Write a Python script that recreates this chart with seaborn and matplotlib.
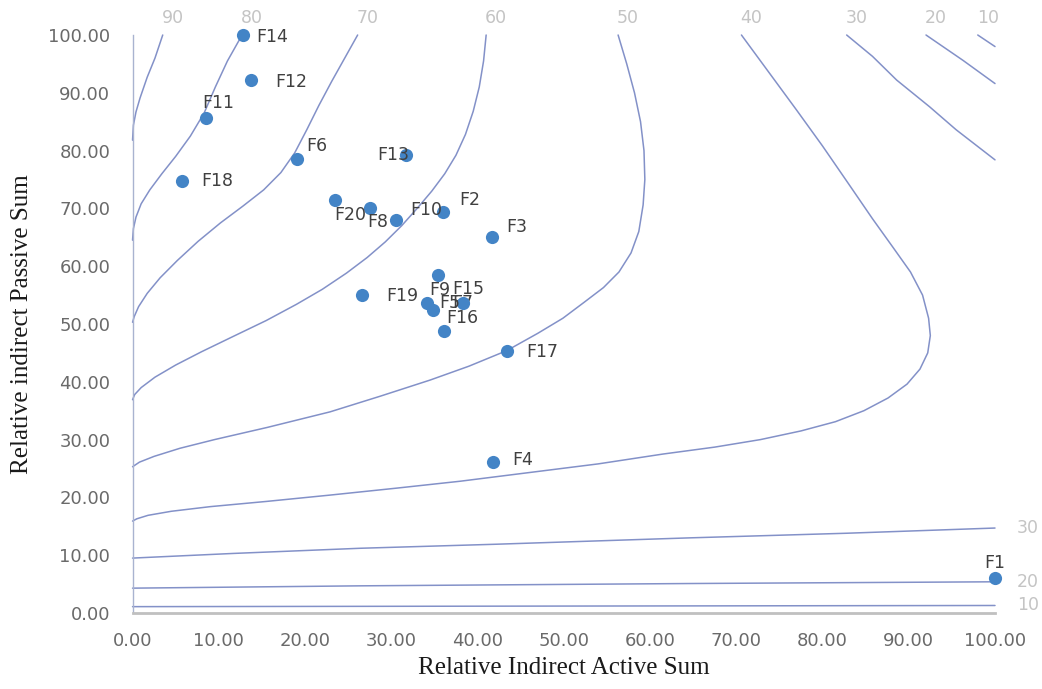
import matplotlib
matplotlib.use("Agg")
import matplotlib.pyplot as plt
import seaborn as sns
import pandas as pd

# Factors: relative indirect active sum (x) vs relative indirect passive sum (y)
factors = ["F1", "F2", "F3", "F4", "F5", "F6", "F7", "F8", "F9", "F10",
           "F11", "F12", "F13", "F14", "F15", "F16", "F17", "F18", "F19", "F20"]
active = [100.0, 36.0, 41.7, 41.8, 34.1, 19.1, 34.8, 27.5, 35.4, 30.6,
          8.5, 13.7, 31.7, 12.8, 38.3, 36.1, 43.4, 5.7, 26.6, 23.5]
passive = [6.0, 69.4, 65.0, 26.1, 53.6, 78.5, 52.4, 70.1, 58.5, 68.0,
           85.6, 92.2, 79.2, 100.0, 53.6, 48.8, 45.3, 74.7, 55.0, 71.5]

# Isolines (level -> traced points)
iso_90 = [(3.5, 100), (2.6, 96.0), (1.7, 92.7), (0.87, 89.1), (0.4, 86.7), (0.1, 84.4), (0.0, 81.8)]
iso_80 = [(12.7, 100), (11.0, 95.5), (9.6, 91.0), (8.3, 86.5), (6.7, 82.5), (5.0, 79.0),
          (3.4, 76.0), (2.0, 73.2), (1.0, 70.8), (0.4, 68.5), (0.1, 66.5), (0.0, 64.5)]
iso_70 = [(26.1, 100), (24.6, 96.0), (23.1, 92.0), (21.6, 87.8), (20.2, 83.6), (18.8, 79.6),
          (17.2, 76.2), (15.2, 73.2), (12.8, 70.4), (10.2, 67.5), (7.6, 64.3), (5.2, 61.0),
          (3.2, 58.0), (1.7, 55.3), (0.7, 53.0), (0.2, 51.3), (0.0, 50.3)]
iso_60 = [(41.0, 100), (40.7, 95.5), (40.2, 91.0), (39.5, 86.8), (38.6, 82.8), (37.5, 79.2),
          (36.2, 76.0), (34.7, 73.0), (33.0, 70.0), (31.2, 67.0), (29.3, 64.2), (27.2, 61.5),
          (24.8, 58.8), (22.0, 56.0), (19.0, 53.4), (15.5, 50.6), (11.6, 47.8), (8.0, 45.2),
          (5.0, 42.9), (2.6, 40.8), (1.0, 39.0), (0.25, 37.8), (0.0, 36.9)]
iso_50 = [(56.3, 100), (57.3, 95.0), (58.2, 90.0), (58.9, 85.0), (59.3, 80.0), (59.4, 75.0),
          (59.2, 70.6), (58.7, 66.0), (57.8, 62.3), (56.4, 59.0), (54.6, 56.3), (52.4, 53.8),
          (49.9, 51.0), (47.0, 48.4), (43.4, 45.4), (39.0, 42.7), (34.5, 40.3), (28.7, 37.5),
          (22.9, 34.8), (15.6, 32.1), (9.5, 30.0), (5.5, 28.5), (2.5, 27.1), (0.8, 26.1), (0.0, 25.3)]
iso_40 = [(70.6, 100), (73.8, 93.5), (77.0, 87.0), (80.0, 80.8), (83.0, 74.3), (85.8, 68.2),
          (88.2, 63.2), (90.2, 59.0), (91.6, 55.0), (92.3, 51.0), (92.5, 48.0), (92.2, 45.0),
          (91.3, 42.2), (89.8, 39.6), (87.6, 37.2), (84.8, 35.0), (81.5, 33.1), (77.5, 31.5),
          (72.8, 30.0), (67.5, 28.7), (61.5, 27.5), (54.0, 25.8), (46.0, 24.3), (38.0, 22.8),
          (30.6, 21.6), (22.9, 20.4), (15.5, 19.3), (9.0, 18.4), (4.5, 17.6), (1.8, 16.9),
          (0.5, 16.3), (0.0, 15.9)]
iso_30_upper = [(82.8, 100), (85.8, 96.3), (88.6, 92.2), (92.4, 87.6), (95.5, 83.6), (100, 78.4)]
iso_20_upper = [(92.0, 100), (96.3, 95.6), (100, 91.6)]
iso_10_upper = [(98.0, 100), (100, 98.0)]
iso_30_lower = [(0.0, 9.5), (11.6, 10.3), (26.4, 11.2), (42.2, 11.9), (64.6, 13.0), (82.8, 13.8), (100, 14.7)]
iso_20_lower = [(0.0, 4.3), (26.4, 4.7), (64.6, 5.1), (100, 5.4)]
iso_10_lower = [(0.0, 1.1), (50.0, 1.2), (100, 1.3)]

top_isolines = [("90", iso_90), ("80", iso_80), ("70", iso_70), ("60", iso_60), ("50", iso_50),
                ("40", iso_40), ("30", iso_30_upper), ("20", iso_20_upper), ("10", iso_10_upper)]
right_isolines = [("30", iso_30_lower), ("20", iso_20_lower), ("10", iso_10_lower)]

ticks = [0, 10, 20, 30, 40, 50, 60, 70, 80, 90, 100]

# label placement (pixel offsets of each label centre from its marker)
label_offsets = {
    "F1": (0, 15), "F2": (27, 12), "F3": (25, 10), "F4": (30, 2), "F5": (23, 0),
    "F6": (20, 13), "F7": (30, 7), "F8": (8, -14), "F9": (2, -15), "F10": (30, 10),
    "F11": (12, 15), "F12": (41, -2), "F13": (-13, 0), "F14": (29, -2), "F15": (5, 14),
    "F16": (18, 13), "F17": (35, -1), "F18": (36, 0), "F19": (40, -1), "F20": (15, -15),
}
# labels that sit underneath neighbouring markers
under_markers = {"F7"}

sns.set_theme(style="white")
plt.rcParams["font.family"] = ["DejaVu Sans"]

fig = plt.figure(figsize=(10.42, 6.89), dpi=100)
ax = fig.add_axes([0.1272, 0.1103, 0.8277, 0.8389])

line_color = "#8391C8"
for _, pts in top_isolines + right_isolines:
    line = sns.lineplot(x=[p[0] for p in pts], y=[p[1] for p in pts], sort=False, estimator=None,
                        color=line_color, linewidth=1.1, ax=ax, clip_on=False, zorder=2)
for ln in ax.lines:
    ln.set_solid_joinstyle("round")
    ln.set_solid_capstyle("round")

px_to_pt = 0.72
for lvl, pts in top_isolines:
    ax.annotate(lvl, xy=pts[0], xytext=(10 * px_to_pt, 17 * px_to_pt), textcoords="offset points",
                ha="center", va="center", fontsize=12.5, color="#C4C4C4", annotation_clip=False)
for lvl, pts in right_isolines:
    ax.annotate(lvl, xy=pts[-1], xytext=(33 * px_to_pt, 0), textcoords="offset points",
                ha="center", va="center", fontsize=12.5, color="#C4C4C4", annotation_clip=False)

df = pd.DataFrame({"factor": factors, "active": active, "passive": passive})
sns.scatterplot(data=df, x="active", y="passive", s=90, color="#4384C6", edgecolor="#4384C6",
                linewidth=0, ax=ax, clip_on=False, zorder=4)

for name, xv, yv in zip(factors, active, passive):
    dx, dy = label_offsets[name]
    ax.annotate(name, xy=(xv, yv), xytext=(dx * px_to_pt, dy * px_to_pt), textcoords="offset points",
                ha="center", va="center", fontsize=12.5, color="#404040",
                zorder=3 if name in under_markers else 5, annotation_clip=False)

ax.set_xlim(0, 100)
ax.set_ylim(0, 100)
ax.set_xticks(ticks)
ax.set_yticks(ticks)
ax.set_xticklabels([f"{t:.2f}" for t in ticks])
ax.set_yticklabels([f"{t:.2f}" for t in ticks])
ax.tick_params(axis="both", length=0, labelsize=13, labelcolor="#6A6A6A")
ax.tick_params(axis="x", pad=14)
ax.tick_params(axis="y", pad=16)

for side in ["top", "right"]:
    ax.spines[side].set_visible(False)
ax.spines["left"].set_color("#A9B3D0")
ax.spines["left"].set_linewidth(1.0)
ax.spines["bottom"].set_color("#C0C0C0")
ax.spines["bottom"].set_linewidth(2.0)
ax.set_facecolor("white")
ax.grid(False)

ax.set_xlabel("Relative Indirect Active Sum", family="Liberation Serif", fontsize=18,
              color="#1A1A1A", va="center")
ax.set_ylabel("Relative indirect Passive Sum", family="Liberation Serif", fontsize=18,
              color="#1A1A1A", va="center")
ax.xaxis.set_label_coords(0.5, -0.095)
ax.yaxis.set_label_coords(-0.128, 0.5)

fig.savefig("out.png", dpi=100, facecolor="white")
